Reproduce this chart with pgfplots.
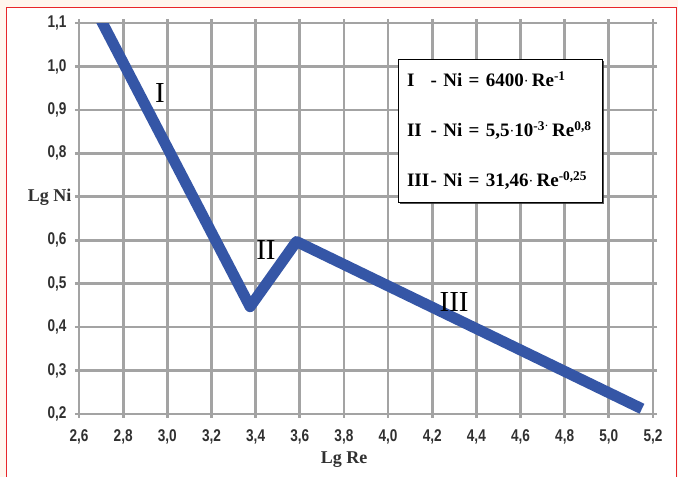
\documentclass[border=0pt]{standalone}
\usepackage{pgfplots}
\pgfplotsset{compat=1.18}
\usepackage{fontspec}
\setmainfont{Liberation Serif}
\newfontfamily\sansf{Liberation Sans}[FakeStretch=0.8]
\usetikzlibrary{shadows}
\definecolor{cream}{HTML}{FFF6EE}
\definecolor{frame}{HTML}{E8262A}
\definecolor{lineblue}{HTML}{3556A6}
\definecolor{gridgray}{HTML}{A3A3A3}
\definecolor{ticktext}{HTML}{303030}
\newcommand{\md}{\raisebox{0.1ex}{$\cdot$}}
\begin{document}
\begin{tikzpicture}[x=1pt,y=1pt]
\fill[cream] (0,0) rectangle (678,477);
\useasboundingbox (0,0) rectangle (678,477);
\fill[white] (6,0) rectangle (676,469);
\draw[frame, line width=1pt] (6,0) -- (6,469) -- (676,469) -- (676,0);
\begin{axis}[
  at={(79pt,63pt)}, anchor=south west,
  scale only axis, width=574pt, height=391pt,
  xmin=2.6, xmax=5.2, ymin=0.2, ymax=1.1,
  xtick={2.6,2.8,3.0,3.2,3.4,3.6,3.8,4.0,4.2,4.4,4.6,4.8,5.0,5.2},
  xticklabels={{2,6},{2,8},{3,0},{3,2},{3,4},{3,6},{3,8},{4,0},{4,2},{4,4},{4,6},{4,8},{5,0},{5,2}},
  ytick={0.2,0.3,0.4,0.5,0.6,0.7,0.8,0.9,1.0,1.1},
  yticklabels={{0,2},{0,3},{0,4},{0,5},{0,6},{},{0,8},{0,9},{1,0},{1,1}},
  grid=major,
  grid style={gridgray, line width=2.7pt},
  axis line style={gridgray, line width=2.7pt},
  tick align=outside, major tick length=4pt,
  tick style={gridgray, line width=2.7pt},
  ticklabel style={font=\sansf\bfseries\fontsize{17}{17}\selectfont, text=ticktext},
  xticklabel style={yshift=-8.5pt},
  yticklabel style={xshift=-5pt},
  xlabel={Lg Re}, ylabel={Lg Ni},
  label style={font=\bfseries\fontsize{18}{18}\selectfont, text=ticktext},
  xlabel style={at={(rel axis cs:0.4617,0)}, anchor=center, yshift=-46pt},
  ylabel style={rotate=-90, at={(rel axis cs:0,0.5556)}, anchor=east, xshift=-4pt},
  clip=true,
]
\addplot[lineblue, line width=11pt, line join=round, line cap=butt] coordinates {
  (2.69,1.116) (3.375,0.447) (3.585,0.597) (5.15,0.212)
};
\node[font=\fontsize{29}{29}\selectfont, text=black] at (axis cs:2.967,0.939) {I};
\node[font=\fontsize{29}{29}\selectfont, text=black] at (axis cs:3.447,0.577) {II};
\node[font=\fontsize{29}{29}\selectfont, text=black] at (axis cs:4.299,0.457) {III};
\end{axis}
\node[draw=black, line width=0.8pt, fill=white,
  drop shadow={shadow xshift=2pt, shadow yshift=-2pt, opacity=0.85, fill=black!80},
  minimum width=204pt, minimum height=143pt, inner sep=0pt, text width=186pt,
  align=left, font=\bfseries\fontsize{19}{50}\selectfont] at (500,346.5)
  {\makebox[1.25em][l]{I}-\ Ni = 6400\md\,Re\textsuperscript{-1}\\
   \makebox[1.25em][l]{II}-\ Ni = 5,5\md10\textsuperscript{-3\md}\,Re\textsuperscript{0,8}\\
   \makebox[1.25em][l]{III}-\ Ni = 31,46\md\,Re\textsuperscript{-0,25}};
\end{tikzpicture}
\end{document}
